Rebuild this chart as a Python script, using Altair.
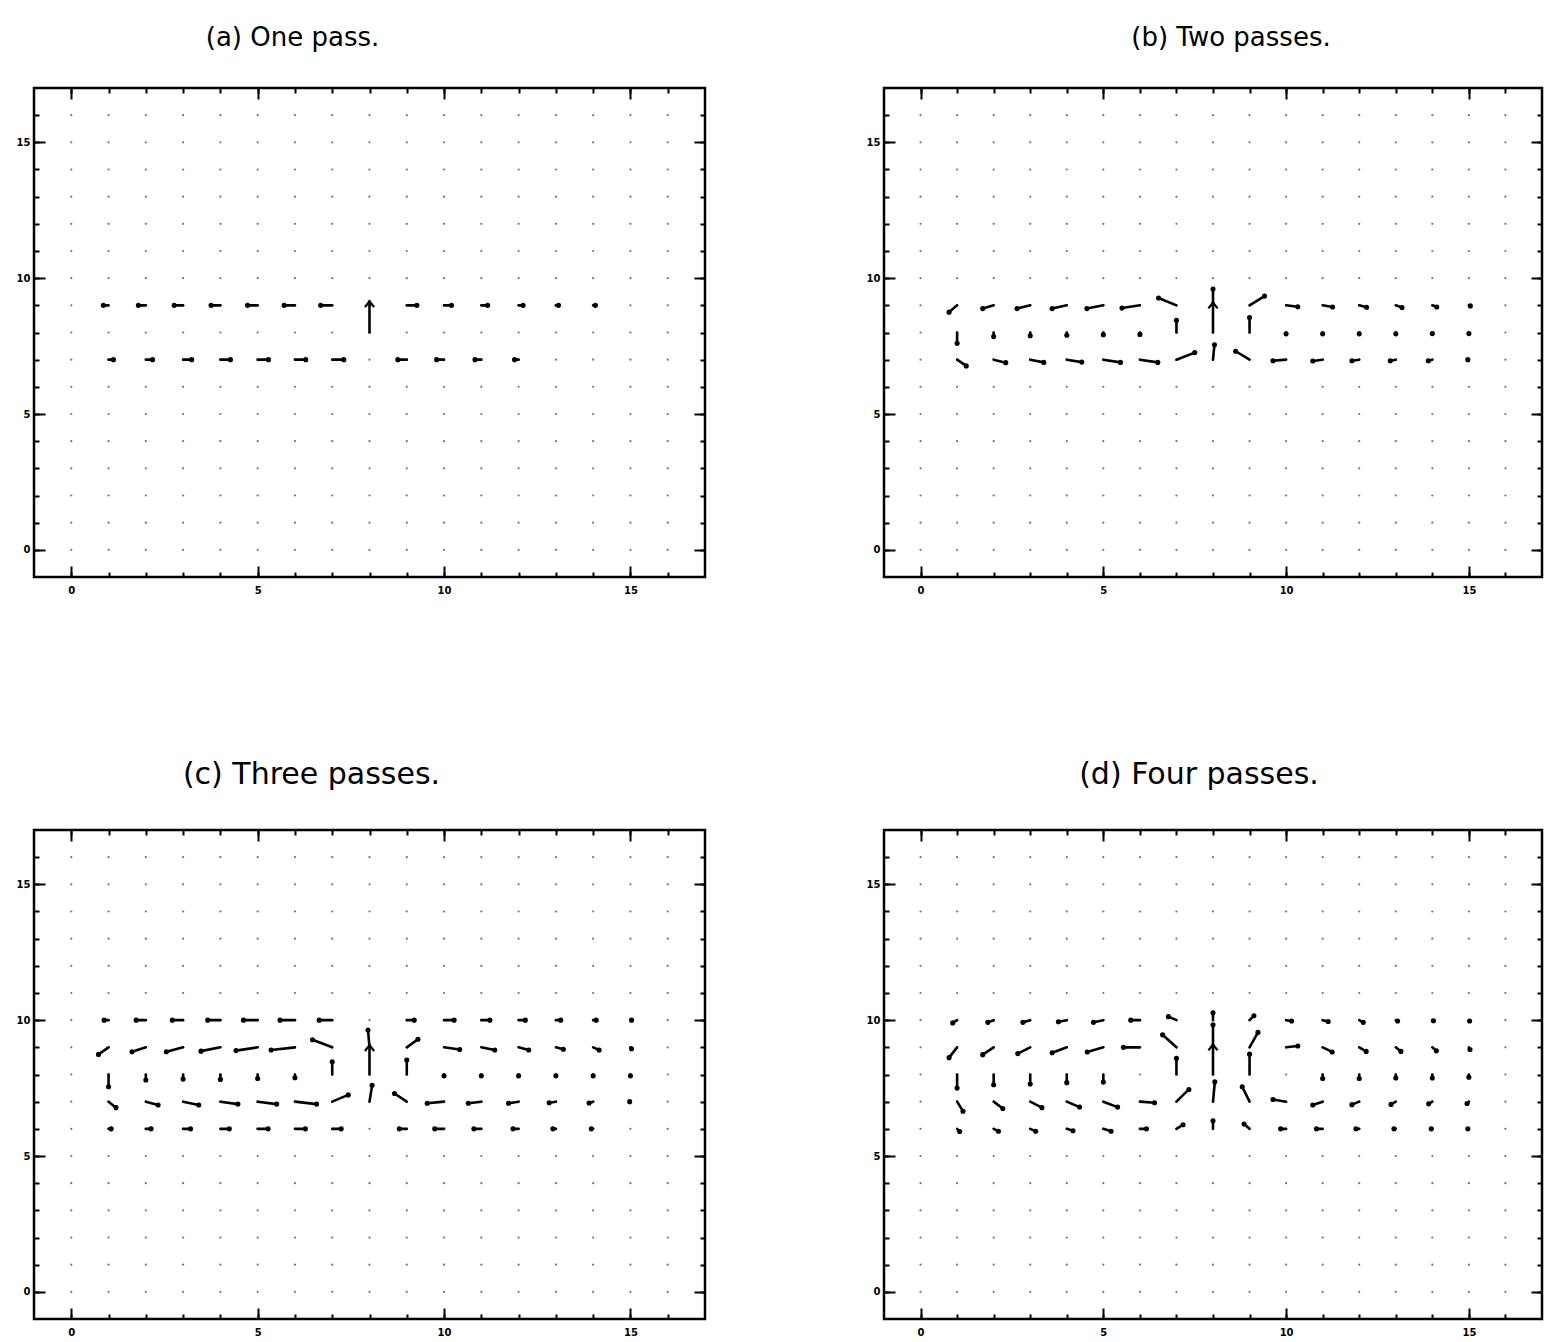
import altair as alt
import pandas as pd

# ---------------- data ----------------
ROW_Y = [10, 9, 8, 7, 6]                       # rows that carry vectors
COL_X = [1, 2, 3, 4, 5, 6, 7, 8, 9, 10, 11, 12, 13, 14, 15]
GRID = list(range(0, 17))                      # grid nodes 0..16
MAJOR = [0, 5, 10, 15]
MINOR = list(range(0, 17))

TITLES = ["(a) One pass.", "(b) Two passes.", "(c) Three passes.", "(d) Four passes."]

# u (horizontal) and v (vertical) components, rows y=10,9,8,7,6 ; columns x=1..15
a_u = [
    [0, 0, 0, 0, 0, 0, 0, 0, 0, 0, 0, 0, 0, 0, 0],
    [-0.14, -0.20, -0.24, -0.25, -0.27, -0.29, -0.31, 0, 0.27, 0.20, 0.17, 0.12, 0.07, 0.06, 0],
    [0, 0, 0, 0, 0, 0, 0, 0, 0, 0, 0, 0, 0, 0, 0],
    [0.13, 0.18, 0.23, 0.27, 0.29, 0.29, 0.31, 0, -0.24, -0.20, -0.17, -0.11, 0, 0, 0],
    [0, 0, 0, 0, 0, 0, 0, 0, 0, 0, 0, 0, 0, 0, 0],
]
a_v = [
    [0, 0, 0, 0, 0, 0, 0, 0, 0, 0, 0, 0, 0, 0, 0],
    [0, 0, 0, 0, 0, 0, 0, 0, 0, 0, 0, 0, 0, 0, 0],
    [0, 0, 0, 0, 0, 0, 0, 1.15, 0, 0, 0, 0, 0, 0, 0],
    [0, 0, 0, 0, 0, 0, 0, 0, 0, 0, 0, 0, 0, 0, 0],
    [0, 0, 0, 0, 0, 0, 0, 0, 0, 0, 0, 0, 0, 0, 0],
]

b_u = [
    [0, 0, 0, 0, 0, 0, 0, 0, 0, 0, 0, 0, 0, 0, 0],
    [-0.22, -0.30, -0.36, -0.40, -0.45, -0.49, -0.49, 0, 0.41, 0.32, 0.27, 0.20, 0.17, 0.12, 0.04],
    [0, 0, 0, 0, 0, 0, 0, 0, 0, 0, 0, 0, 0, 0, 0],
    [0.25, 0.33, 0.37, 0.41, 0.47, 0.49, 0.50, 0.04, -0.38, -0.36, -0.27, -0.20, -0.15, -0.11, -0.03],
    [0, 0, 0, 0, 0, 0, 0, 0, 0, 0, 0, 0, 0, 0, 0],
]
b_v = [
    [0, 0, 0, 0, 0, 0, 0, 0, 0, 0, 0, 0, 0, 0, 0],
    [-0.25, -0.12, -0.12, -0.12, -0.12, -0.10, 0.27, 0.60, 0.34, -0.05, -0.06, -0.07, -0.08, -0.06, -0.02],
    [-0.40, -0.15, -0.12, -0.10, -0.08, -0.07, 0.45, 1.10, 0.55, -0.05, -0.05, -0.05, -0.05, -0.04, -0.04],
    [-0.23, -0.11, -0.10, -0.09, -0.10, -0.10, 0.26, 0.55, 0.31, -0.04, -0.05, -0.04, -0.04, -0.04, 0],
    [0, 0, 0, 0, 0, 0, 0, 0, 0, 0, 0, 0, 0, 0, 0],
]

c_u = [
    [-0.12, -0.26, -0.29, -0.34, -0.38, -0.40, -0.35, 0, 0.20, 0.27, 0.23, 0.18, 0.13, 0.08, 0.03],
    [-0.27, -0.37, -0.45, -0.52, -0.58, -0.64, -0.53, -0.04, 0.30, 0.42, 0.36, 0.27, 0.20, 0.16, 0.03],
    [0, 0, 0, 0, 0, 0, 0, 0, 0, 0, 0, 0, 0, 0, 0],
    [0.20, 0.33, 0.42, 0.47, 0.51, 0.58, 0.43, 0.07, -0.33, -0.45, -0.35, -0.27, -0.18, -0.11, -0.02],
    [0.07, 0.14, 0.20, 0.24, 0.28, 0.28, 0.24, 0, -0.20, -0.25, -0.20, -0.15, -0.08, -0.05, 0],
]
c_v = [
    [0, 0, 0, 0, 0, 0, 0, 0, 0, 0, 0, 0, 0, 0, 0],
    [-0.26, -0.16, -0.16, -0.14, -0.12, -0.10, 0.28, 0.64, 0.30, -0.08, -0.10, -0.10, -0.07, -0.10, -0.05],
    [-0.45, -0.20, -0.17, -0.18, -0.15, -0.12, 0.47, 1.08, 0.53, -0.05, -0.05, -0.05, -0.05, -0.05, -0.05],
    [-0.22, -0.12, -0.12, -0.09, -0.09, -0.09, 0.25, 0.60, 0.30, -0.06, -0.06, -0.06, -0.04, -0.05, 0],
    [0, 0, 0, 0, 0, 0, 0, 0, 0, 0, 0, 0, 0, 0, 0],
]

d_u = [
    [-0.12, -0.16, -0.20, -0.23, -0.27, -0.25, -0.22, 0, 0.12, 0.15, 0.15, 0.11, 0.05, 0.03, 0.02],
    [-0.22, -0.30, -0.34, -0.40, -0.44, -0.45, -0.38, 0, 0.23, 0.32, 0.26, 0.19, 0.14, 0.11, 0.03],
    [0, 0, 0, 0, 0, 0, 0, 0, 0, 0, 0, 0, 0, 0, 0],
    [0.16, 0.25, 0.32, 0.35, 0.39, 0.40, 0.34, 0.05, -0.20, -0.36, -0.27, -0.20, -0.13, -0.10, -0.05],
    [0.07, 0.13, 0.15, 0.17, 0.21, 0.18, 0.18, 0, -0.15, -0.15, -0.17, -0.09, -0.05, -0.03, -0.03],
]
d_v = [
    [-0.10, -0.08, -0.08, -0.06, -0.08, 0, 0.13, 0.27, 0.16, -0.03, -0.05, -0.08, -0.03, -0.02, -0.03],
    [-0.38, -0.27, -0.23, -0.20, -0.17, 0, 0.46, 0.83, 0.55, 0.05, -0.17, -0.15, -0.15, -0.13, -0.08],
    [-0.50, -0.38, -0.35, -0.30, -0.28, 0, 0.60, 1.10, 0.75, 0, -0.15, -0.15, -0.13, -0.13, -0.10],
    [-0.35, -0.25, -0.22, -0.20, -0.20, -0.04, 0.45, 0.73, 0.55, 0.08, -0.12, -0.11, -0.10, -0.08, -0.07],
    [-0.10, -0.09, -0.09, -0.07, -0.09, 0, 0.15, 0.30, 0.18, 0, 0, 0, 0, 0, 0],
]

# ---------------- styling ----------------
CHEVRON = "M -0.75 0.95 L 0 0 L 0.75 0.95"
TITLE_FONT = "DejaVu Sans"
TICK_FONT = "DejaVu Sans"


def vec_table(us, vs):
    recs = []
    for i, yy in enumerate(ROW_Y):
        for j, xx in enumerate(COL_X):
            u, v = us[i][j], vs[i][j]
            if u != 0 or v != 0:
                recs.append({"x": xx, "y": yy, "u": u, "v": v})
    return pd.DataFrame(recs)


GRID_DF = pd.DataFrame([{"x": i, "y": j} for i in GRID for j in GRID])


def axis(orient, major):
    size = 11 if major else 5
    show_labels = major and orient in ("bottom", "left")
    kw = dict(
        orient=orient,
        values=MAJOR if major else MINOR,
        tickSize=size,
        offset=-size,
        labels=show_labels,
        domain=False,
        grid=False,
        title=None,
        tickColor="black",
        tickWidth=2,
        labelFont=TICK_FONT,
        labelFontSize=10,
        labelFontWeight="bold",
        labelColor="black",
        labelPadding=8 if orient == "bottom" else 4,
    )
    return alt.Axis(**kw)


def panel(title, dx, fsize, us, vs, w, h):
    xs = alt.Scale(domain=[-1, 17], nice=False, zero=False)
    ys = alt.Scale(domain=[-1, 17], nice=False, zero=False)
    vec = vec_table(us, vs)

    dots = alt.Chart(GRID_DF).mark_circle(size=5, color="#444444", opacity=0.75).encode(
        x=alt.X("x:Q", scale=xs, axis=axis("bottom", True)),
        y=alt.Y("y:Q", scale=ys, axis=axis("left", True)),
    )
    base = alt.Chart(vec).transform_calculate(
        xt="datum.x + datum.u",
        yt="datum.y + datum.v",
        mag="sqrt(datum.u * datum.u + datum.v * datum.v)",
        ang="(atan2(datum.u, datum.v) * 180 / PI + 360) % 360",
    )
    rules = base.mark_rule(strokeWidth=2.6, strokeCap="round", color="black").encode(
        x=alt.X("x:Q", scale=xs, axis=axis("bottom", False)),
        x2="xt:Q",
        y=alt.Y("y:Q", scale=ys, axis=axis("left", False)),
        y2="yt:Q",
    )
    blobs = base.transform_filter("datum.mag < 0.9").mark_circle(
        size=26, color="black", opacity=1
    ).encode(
        x=alt.X("xt:Q", scale=xs, axis=axis("top", True)),
        y=alt.Y("yt:Q", scale=ys, axis=axis("right", True)),
    )
    heads = base.transform_filter("datum.mag >= 0.9").mark_point(
        shape=CHEVRON, filled=False, size=150, strokeWidth=2.2, color="black", opacity=1
    ).encode(
        x=alt.X("xt:Q", scale=xs, axis=axis("top", False)),
        y=alt.Y("yt:Q", scale=ys, axis=axis("right", False)),
        angle=alt.Angle("ang:Q", scale=None),
    )
    return (
        alt.layer(dots, rules, blobs, heads)
        .resolve_axis(x="independent", y="independent")
        .properties(
            width=w,
            height=h,
            view=alt.ViewBackground(stroke="black", strokeWidth=2.5),
            title=alt.TitleParams(
                text=title,
                font=TITLE_FONT,
                fontSize=fsize,
                fontWeight="normal",
                color="black",
                anchor="middle",
                baseline="alphabetic",
                offset=15,
                dx=dx,
            ),
        )
    )


pa = panel(TITLES[0], -77, 26, a_u, a_v, 671, 489)
pb = panel(TITLES[1], 18, 26, b_u, b_v, 658, 489)
pc = panel(TITLES[2], -58, 30, c_u, c_v, 671, 489)
pd_ = panel(TITLES[3], -14, 30, d_u, d_v, 658, 489)

chart = (
    alt.concat(pa, pb, pc, pd_, columns=2, spacing={"row": 253, "column": 179}, bounds="flush")
    .properties(padding={"left": 14, "top": 23, "right": 0, "bottom": 0})
    .configure(background="white")
    .configure_view(stroke="black", strokeWidth=2.5)
)

chart.save("out.html", embed_options={"renderer": "svg", "actions": False})
